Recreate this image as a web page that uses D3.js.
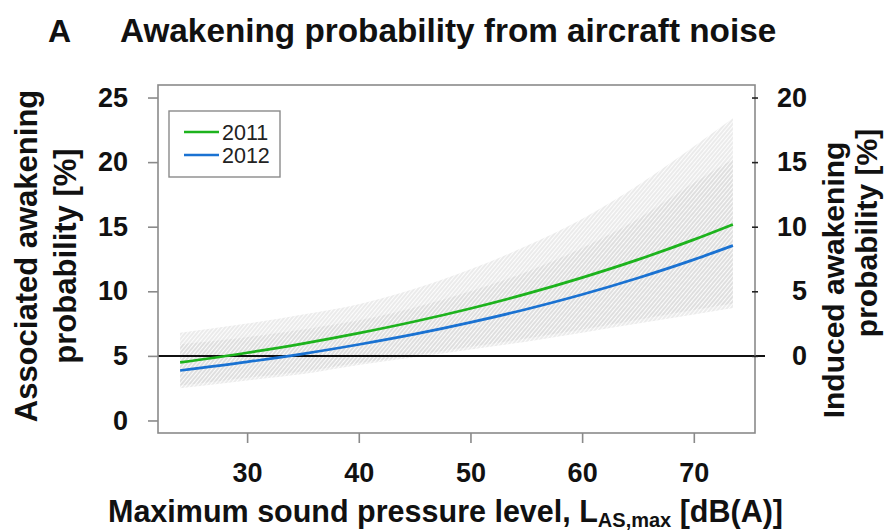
<!DOCTYPE html>
<html>
<head>
<meta charset="utf-8">
<script src="https://cdn.jsdelivr.net/npm/d3@7/dist/d3.min.js"></script>
<style>
  html, body { margin: 0; padding: 0; background: #fff; }
  svg { display: block; }
  text { font-family: "Liberation Sans", Arial, Helvetica, sans-serif; }
</style>
</head>
<body>
<svg id="chart" width="888" height="531"></svg>
<script>
// Maximum sound pressure level, dB(A)
const levels = [24, 30, 35, 40, 45, 50, 55, 60, 65, 70, 73.5];
// Associated awakening probability [%], fitted curves
const prob2011 = [4.49, 5.24, 5.95, 6.76, 7.66, 8.67, 9.80, 11.06, 12.45, 14.0, 15.18];
const prob2012 = [3.87, 4.53, 5.16, 5.88, 6.68, 7.59, 8.61, 9.75, 11.03, 12.45, 13.54];
// 95% confidence bands
const upper2011 = [6.8, 7.5, 8.2, 9.0, 10.2, 11.7, 13.5, 15.6, 18.2, 21.2, 23.4];
const lower2011 = [2.7, 3.3, 3.8, 4.45, 5.05, 5.7, 6.35, 7.05, 7.8, 8.55, 9.05];
const upper2012 = [5.9, 6.45, 7.05, 7.75, 8.75, 10.0, 11.5, 13.35, 15.6, 18.4, 20.2];
const lower2012 = [2.5, 3.1, 3.6, 4.3, 4.9, 5.5, 6.1, 6.8, 7.5, 8.2, 8.7];

const seriesNames = ["2011", "2012"];
const seriesColors = ["#1db31d", "#1a72d2"];

const xTicks = [30, 40, 50, 60, 70];
const leftTicks = [0, 5, 10, 15, 20, 25];
const rightTicks = [0, 5, 10, 15, 20];
const baselineRisk = 5; // associated probability at which induced probability is 0

const svg = d3.select("#chart");
const box = { left: 158, right: 755, top: 85, bottom: 433 };

const x = d3.scaleLinear().domain([22.02, 75.48]).range([box.left, box.right]);
const y = d3.scaleLinear().domain([-0.97, 25.97]).range([box.bottom, box.top]);
const yRight = d3.scaleLinear()
  .domain([y.domain()[0] - baselineRisk, y.domain()[1] - baselineRisk])
  .range([box.bottom, box.top]);

// hatched fill for the confidence bands
const defs = svg.append("defs");
const pat = defs.append("pattern")
  .attr("id", "hatch")
  .attr("patternUnits", "userSpaceOnUse")
  .attr("width", 3).attr("height", 3)
  .attr("patternTransform", "rotate(40)");
pat.append("rect").attr("width", 3).attr("height", 3).attr("fill", "#cfcfcf");
pat.append("line").attr("x1", 0.5).attr("y1", 0).attr("x2", 0.5).attr("y2", 3)
  .attr("stroke", "#ffffff").attr("stroke-width", 0.9);

const bands = [
  { lo: lower2011, hi: upper2011 },
  { lo: lower2012, hi: upper2012 }
];
const area = d3.area()
  .x((d, i) => x(levels[i]))
  .y0(d => y(d[0]))
  .y1(d => y(d[1]))
  .curve(d3.curveMonotoneX);

svg.append("g").selectAll("path")
  .data(bands)
  .join("path")
  .attr("d", b => area(b.lo.map((v, i) => [v, b.hi[i]])))
  .attr("fill", "url(#hatch)")
  .attr("opacity", 0.42);

// reference line: induced probability 0
svg.append("line")
  .attr("x1", box.left).attr("x2", box.right + 10)
  .attr("y1", y(baselineRisk)).attr("y2", y(baselineRisk))
  .attr("stroke", "#111").attr("stroke-width", 2);

// fitted curves
const line = d3.line()
  .x((d, i) => x(levels[i]))
  .y(d => y(d))
  .curve(d3.curveMonotoneX);

svg.append("g").selectAll("path")
  .data([prob2011, prob2012])
  .join("path")
  .attr("d", d => line(d))
  .attr("fill", "none")
  .attr("stroke", (d, i) => seriesColors[i])
  .attr("stroke-width", 2.7);

// plot frame
svg.append("rect")
  .attr("x", box.left).attr("y", box.top)
  .attr("width", box.right - box.left).attr("height", box.bottom - box.top)
  .attr("fill", "none").attr("stroke", "#8a8a8a").attr("stroke-width", 1.6);

const tickFont = g => g.selectAll("text")
  .attr("font-size", 27).attr("font-weight", "bold").attr("fill", "#111")
  .attr("font-family", "'Liberation Sans', Arial, sans-serif");

// left axis
const gL = svg.append("g").attr("transform", `translate(${box.left},0)`)
  .call(d3.axisLeft(y).tickValues(leftTicks).tickSize(10).tickPadding(20));
gL.select(".domain").remove();
gL.selectAll("line").attr("stroke", "#8a8a8a").attr("stroke-width", 1.6);
gL.call(tickFont);

// bottom axis
const gB = svg.append("g").attr("transform", `translate(0,${box.bottom})`)
  .call(d3.axisBottom(x).tickValues(xTicks).tickSize(10).tickPadding(20));
gB.select(".domain").remove();
gB.selectAll("line").attr("stroke", "#8a8a8a").attr("stroke-width", 1.6);
gB.call(tickFont);

// right axis (induced probability)
const gR = svg.append("g").attr("transform", `translate(${box.right},0)`)
  .call(d3.axisRight(yRight).tickValues(rightTicks).tickSize(3).tickPadding(10));
gR.select(".domain").remove();
gR.selectAll("line").attr("x1", -3).attr("stroke", "#222").attr("stroke-width", 1.6);
gR.call(tickFont);
gR.selectAll("text").attr("text-anchor", "end").attr("x", 52);

// legend
const leg = svg.append("g");
leg.append("rect")
  .attr("x", 169).attr("y", 111).attr("width", 111).attr("height", 66)
  .attr("fill", "#fff").attr("stroke", "#8a8a8a").attr("stroke-width", 1.4);
seriesNames.forEach((name, i) => {
  const yy = 132 + i * 23;
  leg.append("line")
    .attr("x1", 184).attr("x2", 219).attr("y1", yy).attr("y2", yy)
    .attr("stroke", seriesColors[i]).attr("stroke-width", 2.7);
  leg.append("text")
    .attr("x", 222).attr("y", yy + 8)
    .attr("font-size", 21.5).attr("fill", "#222")
    .text(name);
});

// titles
svg.append("text").attr("x", 48).attr("y", 42)
  .attr("font-size", 32).attr("font-weight", "bold").attr("fill", "#111").text("A");
svg.append("text").attr("x", 120).attr("y", 42)
  .attr("font-size", 33.3).attr("font-weight", "bold").attr("fill", "#111")
  .text("Awakening probability from aircraft noise");

const xl = svg.append("text").attr("x", 108).attr("y", 522)
  .attr("font-size", 30.5).attr("font-weight", "bold").attr("fill", "#111");
xl.append("tspan").text("Maximum sound pressure level, L");
xl.append("tspan").attr("font-size", 20).attr("dy", 5).text("AS,max");
xl.append("tspan").attr("dy", -5).text(" [dB(A)]");

function vlabel(txt, xPos, yMid, size) {
  svg.append("text")
    .attr("transform", `translate(${xPos},${yMid}) rotate(-90)`)
    .attr("text-anchor", "middle")
    .attr("font-size", size).attr("font-weight", "bold").attr("fill", "#111")
    .text(txt);
}
vlabel("Associated awakening", 37, 256, 31);
vlabel("probability [%]", 76, 256, 31);
vlabel("Induced awakening", 844, 280, 30);
vlabel("probability [%]", 877, 233, 30);
</script>
</body>
</html>
